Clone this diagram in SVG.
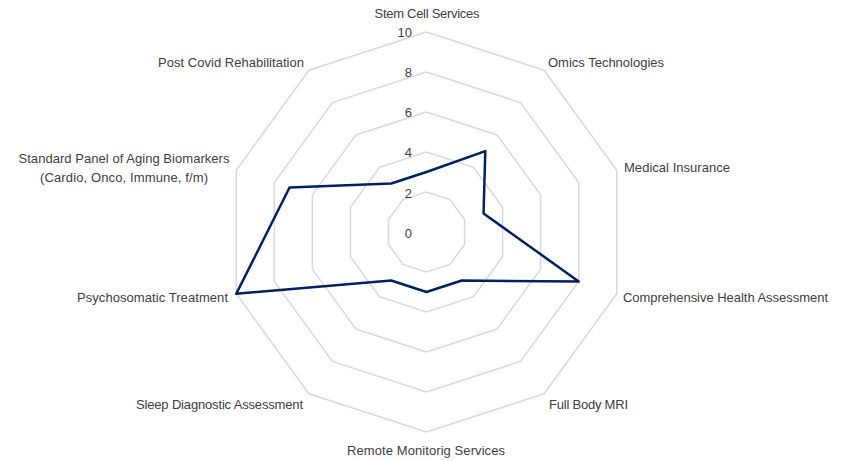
<svg xmlns="http://www.w3.org/2000/svg" width="844" height="461" viewBox="0 0 844 461">
<style>
.grid{fill:none;stroke:#d9d9d9;stroke-width:1.5;stroke-linejoin:miter}
.data{fill:none;stroke:#002060;stroke-width:2.5;stroke-linejoin:round}
text{font-family:"Liberation Sans",Arial,sans-serif;font-size:13px;fill:#404040}
.tick{text-anchor:end}
.mid{text-anchor:middle}
.end{text-anchor:end}
</style>
<rect width="844" height="461" fill="#ffffff"/>
<g id="grid">
<polygon class="grid" points="426.5,32 544.06,70.2 616.72,170.2 616.72,293.8 544.06,393.8 426.5,432 308.94,393.8 236.28,293.8 236.28,170.2 308.94,70.2"/>
<polygon class="grid" points="426.5,72 520.55,102.56 578.68,182.56 578.68,281.44 520.55,361.44 426.5,392 332.45,361.44 274.32,281.44 274.32,182.56 332.45,102.56"/>
<polygon class="grid" points="426.5,112 497.04,134.92 540.63,194.92 540.63,269.08 497.04,329.08 426.5,352 355.96,329.08 312.37,269.08 312.37,194.92 355.96,134.92"/>
<polygon class="grid" points="426.5,152 473.52,167.28 502.59,207.28 502.59,256.72 473.52,296.72 426.5,312 379.48,296.72 350.41,256.72 350.41,207.28 379.48,167.28"/>
<polygon class="grid" points="426.5,192 450.01,199.64 464.54,219.64 464.54,244.36 450.01,264.36 426.5,272 402.99,264.36 388.46,244.36 388.46,219.64 402.99,199.64"/>
</g>
<g id="ticks">
<text class="tick" x="412" y="37">10</text>
<text class="tick" x="412" y="77">8</text>
<text class="tick" x="412" y="117">6</text>
<text class="tick" x="412" y="157">4</text>
<text class="tick" x="412" y="198">2</text>
<text class="tick" x="412" y="238">0</text>
</g>
<g id="series">
<polygon class="data" points="426.5,172 485.28,151.1 483.57,213.46 578.68,281.44 461.77,280.54 426.5,292 391.23,280.54 236.28,293.8 289.54,187.5 391.23,183.46"/>
</g>
<g id="labels">
<g id="stem"><text class="mid" x="427" y="18" textLength="105">Stem Cell Services</text></g>
<g id="omics"><text x="548" y="67" textLength="116">Omics Technologies</text></g>
<g id="insurance"><text x="624" y="172" textLength="106">Medical Insurance</text></g>
<g id="comprehensive"><text x="623" y="302" textLength="205">Comprehensive Health Assessment</text></g>
<g id="mri"><text x="549" y="409" textLength="79">Full Body MRI</text></g>
<g id="remote"><text class="mid" x="426" y="455" textLength="158">Remote Monitorig Services</text></g>
<g id="sleep"><text class="end" x="303" y="409" textLength="167">Sleep Diagnostic Assessment</text></g>
<g id="psychosomatic"><text class="end" x="228" y="302" textLength="151">Psychosomatic Treatment</text></g>
<g id="panel"><text class="mid" x="124" y="163" textLength="211">Standard Panel of Aging Biomarkers</text><text class="mid" x="124" y="182" textLength="168">(Cardio, Onco, Immune, f/m)</text></g>
<g id="postcovid"><text class="end" x="304" y="67" textLength="146">Post Covid Rehabilitation</text></g>
</g>
</svg>
